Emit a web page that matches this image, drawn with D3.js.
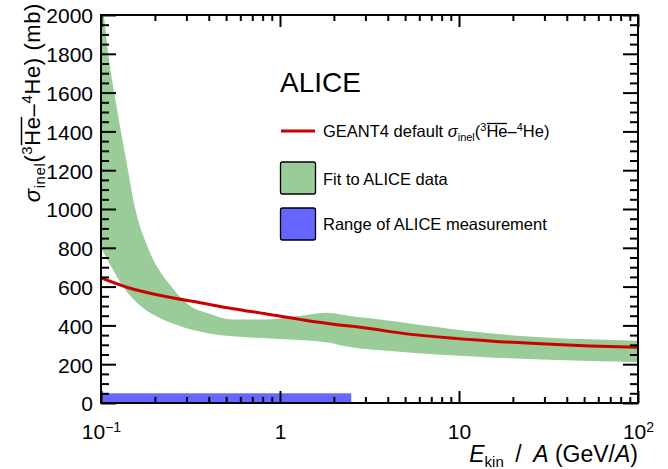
<!DOCTYPE html>
<html lang="en">
<head>
<meta charset="UTF-8">
<title>ALICE - inelastic cross section</title>
<script src="https://cdn.jsdelivr.net/npm/d3@7"></script>
<style>
    body { margin: 0; background: #fff; }
    svg { display: block; font-family: "Liberation Sans", Arial, Helvetica, sans-serif; }
</style>
</head>
<body>
<script>

    // GEANT4 DEFAULT CURVE
    const g4Energy = [0.1, 0.152, 0.233, 0.357, 0.548, 0.843, 1.29, 1.99, 2.46, 3.62, 4.12, 14.9, 54, 100]
    const g4Sigma  = [645, 586, 548, 517, 486, 459, 431, 406, 397, 376, 368, 320, 294, 287]

    // FIT BAND, UPPER AND LOWER EDGE
    const fitUpEnergy = [0.1, 0.1035, 0.110, 0.120, 0.131, 0.1415, 0.1555, 0.183, 0.247, 0.319, 0.396, 0.548, 0.843, 1.29, 1.83, 2.16, 2.46, 3.62, 4.12, 14.9, 54, 100]
    const fitUpSigma  = [2070, 2000, 1790, 1570, 1370, 1200, 1000, 800, 600, 496, 462, 430, 431, 448, 465, 457, 448, 431, 424, 359, 328, 321]
    const fitLoEnergy = [0.1, 0.114, 0.1327, 0.168, 0.214, 0.27, 0.396, 0.680, 1.0, 1.29, 1.6, 1.9, 2.2, 2.5, 4.12, 14.9, 54, 100]
    const fitLoSigma  = [800, 703, 600, 496, 437, 400, 359, 337, 330, 325, 318, 310, 296, 287, 268, 235, 216, 210]

    // RANGE OF MEASUREMENT
    const rangeEnergy = [0.1, 2.5]
    const rangeSigma = 50

    // AXES
    const xDomain = [0.1, 100]
    const yDomain = [0, 2000]
    const xMajor = [0.1, 1, 10, 100]
    const xMajorLabels = [["10", "\u22121"], ["1", ""], ["10", ""], ["10", "2"]]
    const yMajor = [0, 200, 400, 600, 800, 1000, 1200, 1400, 1600, 1800, 2000]

    const legendLabels = ["GEANT4 default", "Fit to ALICE data", "Range of ALICE measurement"]

    const W = 668, H = 469
    const pLeft = 101, pRight = 638, pTop = 15, pBottom = 403

    const green = "#99cc99", blue = "#6666ff", red = "#cc0000"

    let svg = d3.select("body").append("svg").attr("width", W).attr("height", H)

    let x = d3.scaleLog().domain(xDomain).range([pLeft, pRight])
    let y = d3.scaleLinear().domain(yDomain).range([pBottom, pTop])

    svg.append("clipPath").attr("id", "plot")
        .append("rect").attr("x", pLeft).attr("y", pTop).attr("width", pRight - pLeft).attr("height", pBottom - pTop)

    let plot = svg.append("g").attr("clip-path", "url(#plot)")

    // BAND
    let edge = d3.line().x(d => x(d[0])).y(d => y(d[1])).curve(d3.curveMonotoneX)
    let upper = d3.zip(fitUpEnergy, fitUpSigma)
    let lower = d3.zip(fitLoEnergy, fitLoSigma).reverse()
    let bandPath = edge(upper) + "L" + edge(lower).slice(1) + "Z"
    plot.append("path").attr("d", bandPath).style("fill", green).style("stroke", "none")

    // GEANT4 LINE
    plot.append("path")
        .attr("d", edge(d3.zip(g4Energy, g4Sigma)))
        .style("fill", "none").style("stroke", red).style("stroke-width", "3px")

    // RANGE BAR
    plot.append("rect")
        .attr("x", x(rangeEnergy[0])).attr("y", y(rangeSigma))
        .attr("width", x(rangeEnergy[1]) - x(rangeEnergy[0]))
        .attr("height", y(0) - y(rangeSigma))
        .style("fill", blue)

    // TICKS (ROOT STYLE: INWARD, ALL FOUR SIDES)
    let xMinor = x.ticks().filter(t => !xMajor.some(m => Math.abs(m - t) < 1e-9))
    let yMinor = y.ticks(40).filter(t => t % 200 !== 0)

    function styleAxis(g) {
        g.select(".domain").remove()
        g.selectAll(".tick line").style("stroke", "#000").style("stroke-width", "2px")
        g.selectAll("text").style("font-size", "21px").style("fill", "#000")
    }

    svg.append("g").attr("transform", `translate(0,${pBottom})`)
        .call(d3.axisBottom(x).tickValues(xMinor).tickSize(-6).tickFormat(""))
        .call(styleAxis)
    let xAxis = svg.append("g").attr("transform", `translate(0,${pBottom})`)
        .call(d3.axisBottom(x).tickValues(xMajor).tickSize(-12).tickPadding(21).tickFormat(""))
        .call(styleAxis)
    svg.append("g").attr("transform", `translate(0,${pTop})`)
        .call(d3.axisTop(x).tickValues(xMinor).tickSize(-6).tickFormat(""))
        .call(styleAxis)
    svg.append("g").attr("transform", `translate(0,${pTop})`)
        .call(d3.axisTop(x).tickValues(xMajor).tickSize(-12).tickFormat(""))
        .call(styleAxis)

    xAxis.selectAll(".tick text").each(function(d) {
        let lab = xMajorLabels[xMajor.indexOf(d)]
        let t = d3.select(this).text(null)
        t.append("tspan").text(lab[0])
        if (lab[1]) t.append("tspan").attr("dy", "-0.5em").style("font-size", "14px").text(lab[1])
    })

    svg.append("g").attr("transform", `translate(${pLeft},0)`)
        .call(d3.axisLeft(y).tickValues(yMinor).tickSize(-8).tickFormat(""))
        .call(styleAxis)
    svg.append("g").attr("transform", `translate(${pLeft},0)`)
        .call(d3.axisLeft(y).tickValues(yMajor).tickSize(-15).tickPadding(8).tickFormat(d3.format("d")))
        .call(styleAxis)
        .selectAll("text").attr("dy", "0.38em")
    svg.append("g").attr("transform", `translate(${pRight},0)`)
        .call(d3.axisRight(y).tickValues(yMinor).tickSize(-8).tickFormat(""))
        .call(styleAxis)
    svg.append("g").attr("transform", `translate(${pRight},0)`)
        .call(d3.axisRight(y).tickValues(yMajor).tickSize(-15).tickFormat(""))
        .call(styleAxis)

    // FRAME
    svg.append("rect").attr("x", pLeft).attr("y", pTop).attr("width", pRight - pLeft).attr("height", pBottom - pTop)
        .style("fill", "none").style("stroke", "#000").style("stroke-width", "2px")

    // overline over a tspan, drawn inside the same parent group
    function overline(parent, span, sw) {
        let bb = span.node().getBBox()
        parent.append("line")
            .attr("x1", bb.x + 0.5).attr("x2", bb.x + bb.width - 0.5)
            .attr("y1", bb.y + 1.5).attr("y2", bb.y + 1.5)
            .style("stroke", "#000").style("stroke-width", sw)
    }

    // sigma_inel(3He-bar - 4He) built from tspans
    function sigmaText(t, small, sub, sup) {
        t.append("tspan").style("font-style", "italic").text("\u03c3")
        t.append("tspan").attr("dy", sub).style("font-size", small + "px").text("inel")
        t.append("tspan").attr("dy", -sub).text("(")
        t.append("tspan").attr("dy", -sup).style("font-size", small + "px").text("3")
        let he = t.append("tspan").attr("dy", sup).text("He")
        t.append("tspan").text("\u2013")
        t.append("tspan").attr("dy", -sup).style("font-size", small + "px").text("4")
        t.append("tspan").attr("dy", sup).text("He)")
        return he
    }

    // Y TITLE
    let yTitle = svg.append("g").attr("transform", "translate(40,3) rotate(-90)")
    let yt = yTitle.append("text").attr("text-anchor", "end")
        .style("font-size", "22px").style("letter-spacing", "0.6px")
    let yHe = sigmaText(yt, 15, 5, 8)
    yt.append("tspan").text(" (mb)")
    overline(yTitle, yHe, 1.5)

    // X TITLE
    let xt = svg.append("text").attr("x", pRight).attr("y", 462).attr("text-anchor", "end").style("font-size", "23px")
    xt.append("tspan").style("font-style", "italic").text("E")
    xt.append("tspan").attr("dy", 5).style("font-size", "15px").text("kin")
    xt.append("tspan").attr("dy", -5).text("\u2002/\u2002")
    xt.append("tspan").style("font-style", "italic").text("A")
    xt.append("tspan").text(" (GeV/")
    xt.append("tspan").style("font-style", "italic").text("A")
    xt.append("tspan").text(")")

    // LEGEND
    svg.append("text").attr("x", 280).attr("y", 92).text("ALICE").style("font-size", "28px")

    let leg = svg.append("g").style("font-size", "16.5px")
    leg.append("line").attr("x1", 281).attr("x2", 315).attr("y1", 131).attr("y2", 131)
        .style("stroke", red).style("stroke-width", "3px")
    let l1 = leg.append("text").attr("x", 323).attr("y", 137)
    l1.append("tspan").text(legendLabels[0] + " ")
    let lHe = sigmaText(l1, 11, 4, 6)
    overline(leg, lHe, 1.3)

    leg.append("rect").attr("x", 280.5).attr("y", 162).attr("width", 35).attr("height", 32).attr("rx", 2)
        .style("fill", green).style("stroke", "#000").style("stroke-width", "1.3px")
    leg.append("text").attr("x", 323).attr("y", 185).text(legendLabels[1])

    leg.append("rect").attr("x", 280.5).attr("y", 208).attr("width", 35).attr("height", 32).attr("rx", 2)
        .style("fill", blue).style("stroke", "#000").style("stroke-width", "1.3px")
    leg.append("text").attr("x", 323).attr("y", 230).text(legendLabels[2])

</script>
</body>
</html>
